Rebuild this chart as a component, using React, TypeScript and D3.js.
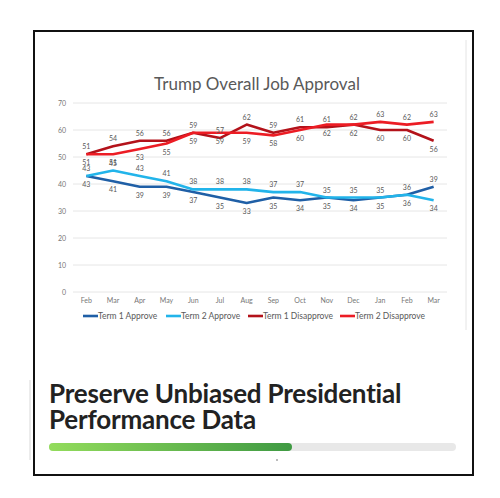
import React from 'react';
import * as d3 from 'd3';

const months = ['Feb', 'Mar', 'Apr', 'May', 'Jun', 'Jul', 'Aug', 'Sep', 'Oct', 'Nov', 'Dec', 'Jan', 'Feb', 'Mar'];
const term1Approve = [43, 41, 39, 39, 37, 35, 33, 35, 34, 35, 34, 35, 36, 39];
const term2Approve = [43, 45, 43, 41, 38, 38, 38, 37, 37, 35, 35, 35, 36, 34];
const term1Disapprove = [51, 54, 56, 56, 59, 57, 62, 59, 61, 61, 62, 60, 60, 56];
const term2Disapprove = [51, 51, 53, 55, 59, 59, 59, 58, 60, 62, 62, 63, 62, 63];
const yTicks = [0, 10, 20, 30, 40, 50, 60, 70];

type Series = { name: string, values: number[], color: string };

const series: Series[] = [
  { name: 'Term 1 Approve', values: term1Approve, color: '#1f5fa6' },
  { name: 'Term 2 Approve', values: term2Approve, color: '#22b4ea' },
  { name: 'Term 1 Disapprove', values: term1Disapprove, color: '#b3121a' },
  { name: 'Term 2 Disapprove', values: term2Disapprove, color: '#ec1c24' },
];

const App: React.FC = () => {
  const left = 73, right = 447, top = 103, bottom = 292;
  const x = d3.scaleBand<number>().domain(d3.range(months.length)).range([left, right]);
  const cx = (i: number) => x(i)! + x.bandwidth() / 2;
  const y = d3.scaleLinear().domain([0, 70]).range([bottom, top]);
  const line = d3.line<number>().x((d, i) => cx(i)).y(d => y(d));

  // which label sits above the line: approve pair -> light blue above unless it drops under dark blue;
  // disapprove pair -> dark red above until the last three months
  const above = (si: number, i: number) => {
    if (si === 1) return term2Approve[i] >= term1Approve[i];
    if (si === 0) return !(term2Approve[i] >= term1Approve[i]);
    if (si === 2) return i < 11;
    return i >= 11;
  };

  const legendX = [83, 166, 248, 340];
  const grey = '#595959';

  return (
    <div style={{ position: 'absolute', left: 0, top: 0 }}>
      <svg width={500} height={498} style={{ display: 'block', background: '#fff' }}>
        <defs>
          <linearGradient id="prog" x1="0" x2="1" y1="0" y2="0">
            <stop offset="0%" stopColor="#93dc5c" />
            <stop offset="100%" stopColor="#3f9a43" />
          </linearGradient>
        </defs>
        <rect x={34} y={31} width={439} height={444} fill="#fff" stroke="#111" strokeWidth={2} />
        <line x1={466} x2={466} y1={40} y2={330} stroke="#e4e4e4" strokeWidth={1} />

        <text x={257} y={90} textAnchor="middle" fontFamily="Lato, 'Open Sans', sans-serif" fontSize={17} fill={grey}>
          Trump Overall Job Approval
        </text>

        {yTicks.map(t => (
          <g key={t}>
            <line x1={left} x2={right} y1={y(t)} y2={y(t)} stroke="#e6e6e6" strokeWidth={1} />
            <text x={66} y={y(t) + 2.5} textAnchor="end" fontFamily="Lato, sans-serif" fontSize={7} fill="#777">{t}</text>
          </g>
        ))}

        {months.map((m, i) => (
          <text key={i} x={cx(i)} y={303} textAnchor="middle" fontFamily="Lato, sans-serif" fontSize={7} fill="#777">{m}</text>
        ))}

        {series.map(s => (
          <path key={s.name} d={line(s.values)!} fill="none" stroke={s.color} strokeWidth={2.6} strokeLinejoin="round" />
        ))}

        {series.map((s, si) => s.values.map((v, i) => (
          <text key={s.name + i} x={cx(i)} y={above(si, i) ? y(v) - 5 : y(v) + 11}
            textAnchor="middle" fontFamily="Lato, sans-serif" fontSize={7} fill={grey}>{v}</text>
        )))}

        {series.map((s, si) => (
          <g key={s.name} transform={`translate(${legendX[si]},319)`}>
            <line x1={0} x2={15} y1={-3} y2={-3} stroke={s.color} strokeWidth={2.6} />
            <text x={15} y={0} fontFamily="Lato, sans-serif" fontSize={8.5} fill={grey}>{s.name}</text>
          </g>
        ))}

        <line x1={30} x2={30} y1={380} y2={460} stroke="#d8d8d8" strokeWidth={1} />

        <text x={49} y={403} fontFamily="Lato, 'Open Sans', sans-serif" fontWeight={700} fontSize={26} fill="#222" letterSpacing={-0.2}>
          Preserve Unbiased Presidential
        </text>
        <text x={49} y={429} fontFamily="Lato, 'Open Sans', sans-serif" fontWeight={700} fontSize={26} fill="#222" letterSpacing={-0.2}>
          Performance Data
        </text>

        <rect x={49} y={443} width={407} height={8} rx={4} fill="#e8e8e8" />
        <rect x={49} y={443} width={243} height={8} rx={4} fill="url(#prog)" />
        <circle cx={277} cy={460} r={0.8} fill="#666" />
      </svg>
    </div>
  );
};

export default App;
